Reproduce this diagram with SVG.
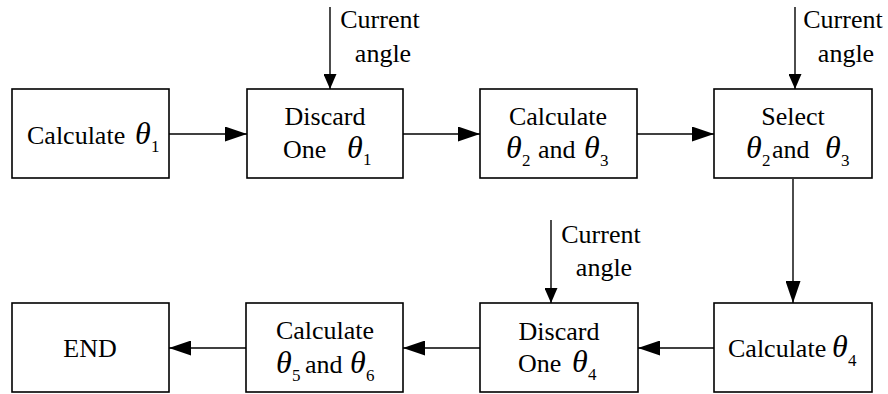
<svg xmlns="http://www.w3.org/2000/svg" width="888" height="394" viewBox="0 0 888 394">
<defs>
<style>
.box{fill:#fff;stroke:#000;stroke-width:1.6}
.t{font-family:"Liberation Serif","Times New Roman",serif;font-size:26px;fill:#000}
.th{font-family:"Liberation Serif","Times New Roman",serif;font-size:32px;font-style:italic;fill:#000}
.sb{font-family:"Liberation Serif","Times New Roman",serif;font-size:17px;fill:#000}
.ln{stroke:#000;stroke-width:1.4;fill:none}
</style>
<marker id="big" markerUnits="userSpaceOnUse" markerWidth="22" markerHeight="15" refX="22" refY="7.5" orient="auto"><path d="M0,0 L22,7.5 L0,15 z" fill="#000"/></marker>
<marker id="small" markerUnits="userSpaceOnUse" markerWidth="15" markerHeight="13" refX="15" refY="6.5" orient="auto"><path d="M0,0 L15,6.5 L0,13 z" fill="#000"/></marker>
</defs>
<rect width="888" height="394" fill="#fff"/>
<g id="connectors">
<line class="ln" x1="169" y1="134" x2="247" y2="134" marker-end="url(#big)"/>
<line class="ln" x1="403" y1="134" x2="480" y2="134" marker-end="url(#big)"/>
<line class="ln" x1="637" y1="134" x2="714" y2="134" marker-end="url(#big)"/>
<line class="ln" x1="793" y1="179" x2="793" y2="303" marker-end="url(#big)"/>
<line class="ln" x1="714" y1="348" x2="638" y2="348" marker-end="url(#big)"/>
<line class="ln" x1="480" y1="348" x2="403" y2="348" marker-end="url(#big)"/>
<line class="ln" x1="246" y1="348" x2="169" y2="348" marker-end="url(#big)"/>
<line class="ln" x1="330" y1="7" x2="330" y2="89" marker-end="url(#small)"/>
<line class="ln" x1="795" y1="7" x2="795" y2="89" marker-end="url(#small)"/>
<line class="ln" x1="551" y1="220" x2="551" y2="303" marker-end="url(#small)"/>
</g>
<g id="label1">
<text class="t" x="380" y="28" text-anchor="middle">Current</text>
<text class="t" x="383" y="62" text-anchor="middle">angle</text>
</g>
<g id="label2">
<text class="t" x="843" y="28" text-anchor="middle">Current</text>
<text class="t" x="846" y="62" text-anchor="middle">angle</text>
</g>
<g id="label3">
<text class="t" x="601" y="243" text-anchor="middle">Current</text>
<text class="t" x="604" y="276" text-anchor="middle">angle</text>
</g>
<g id="n1">
<rect class="box" x="12" y="89" width="157" height="89"/>
<text class="t" x="27" y="144">Calculate</text>
<text class="th" x="135" y="144">θ</text>
<text class="sb" x="151" y="152">1</text>
</g>
<g id="n2">
<rect class="box" x="247" y="89" width="156" height="89"/>
<text class="t" x="325" y="125" text-anchor="middle">Discard</text>
<text class="t" x="283" y="158">One</text>
<text class="th" x="347" y="158">θ</text>
<text class="sb" x="363" y="165">1</text>
</g>
<g id="n3">
<rect class="box" x="480" y="89" width="157" height="89"/>
<text class="t" x="558" y="125" text-anchor="middle">Calculate</text>
<text class="th" x="506" y="158">θ</text>
<text class="sb" x="522" y="166">2</text>
<text class="t" x="538" y="158">and</text>
<text class="th" x="584" y="158">θ</text>
<text class="sb" x="600" y="166">3</text>
</g>
<g id="n4">
<rect class="box" x="714" y="89" width="158" height="89"/>
<text class="t" x="793" y="125" text-anchor="middle">Select</text>
<text class="th" x="746" y="158">θ</text>
<text class="sb" x="762" y="166">2</text>
<text class="t" x="772" y="158">and</text>
<text class="th" x="825" y="158">θ</text>
<text class="sb" x="841" y="166">3</text>
</g>
<g id="n5">
<rect class="box" x="714" y="303" width="158" height="89"/>
<text class="t" x="728" y="357">Calculate</text>
<text class="th" x="832" y="357">θ</text>
<text class="sb" x="848" y="366">4</text>
</g>
<g id="n6">
<rect class="box" x="480" y="303" width="158" height="89"/>
<text class="t" x="559" y="340" text-anchor="middle">Discard</text>
<text class="t" x="518" y="372">One</text>
<text class="th" x="572" y="372">θ</text>
<text class="sb" x="588" y="380">4</text>
</g>
<g id="n7">
<rect class="box" x="246" y="303" width="157" height="89"/>
<text class="t" x="325" y="339" text-anchor="middle">Calculate</text>
<text class="th" x="276" y="373">θ</text>
<text class="sb" x="292" y="381">5</text>
<text class="t" x="305" y="373">and</text>
<text class="th" x="350" y="373">θ</text>
<text class="sb" x="366" y="381">6</text>
</g>
<g id="n8">
<rect class="box" x="12" y="303" width="157" height="89"/>
<text class="t" x="90" y="357" text-anchor="middle">END</text>
</g>
</svg>
